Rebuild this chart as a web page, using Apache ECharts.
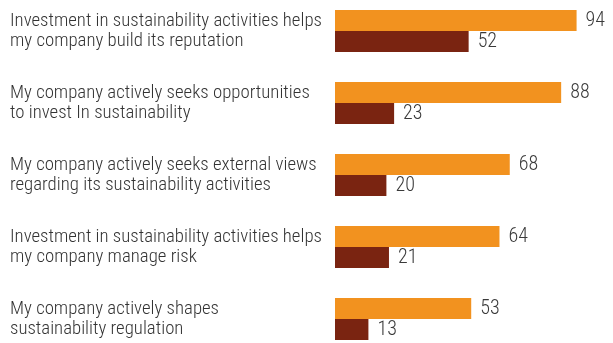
<!DOCTYPE html>
<html><head><meta charset="utf-8">
<script src="https://cdn.jsdelivr.net/npm/echarts@6/dist/echarts.min.js"></script>
<style>html,body{margin:0;padding:0;background:#fff}#c{width:613px;height:343px}</style>
</head><body><div id="c"></div>
<script>
const categories = [
  "Investment in sustainability activities helps\nmy company build its reputation",
  "My company actively seeks opportunities\nto invest In sustainability",
  "My company actively seeks external views\nregarding its sustainability activities",
  "Investment in sustainability activities helps\nmy company manage risk",
  "My company actively shapes\nsustainability regulation"
];
const seriesA = [94, 88, 68, 64, 53];
const seriesB = [52, 23, 20, 21, 13];

const chart = echarts.init(document.getElementById('c'));
const FONT = "'Roboto Condensed', 'DejaVu Sans Condensed', sans-serif";
const lbl = {show: true, position: 'right', distance: 9, color: '#3a3a3a', fontSize: 20, fontWeight: 300, fontFamily: FONT};
chart.setOption({
  animation: false,
  grid: {left: 335, top: -5, width: 257, height: 360, outerBoundsMode: 'none'},
  xAxis: {type: 'value', min: 0, max: 100, show: false},
  yAxis: {type: 'category', data: categories, inverse: true,
    axisLine: {show: false}, axisTick: {show: false},
    axisLabel: {align: 'left', margin: 325, color: '#333', fontSize: 18.8, fontWeight: 300, lineHeight: 20, fontFamily: FONT}},
  series: [
    {type: 'bar', data: seriesA, barWidth: 21, barGap: '0%', itemStyle: {color: '#F2921F'}, label: lbl},
    {type: 'bar', data: seriesB, barWidth: 21, barGap: '0%', itemStyle: {color: '#7A2411'}, label: lbl}
  ]
});
</script></body></html>
